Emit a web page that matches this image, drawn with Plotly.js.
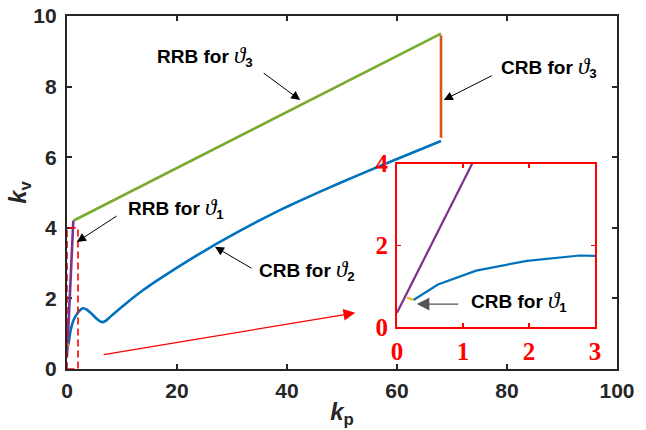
<!DOCTYPE html>
<html>
<head>
<meta charset="utf-8">
<script src="https://cdn.plot.ly/plotly-3.0.1.min.js"></script>
<style>html,body{margin:0;padding:0;background:#fff}#chart{width:646px;height:430px}</style>
</head>
<body>
<div id="chart"></div>
<script>
// ---- data ----
const crb2X = [0.25, 0.6, 1.2, 2.0, 2.9, 3.6, 4.7, 5.5, 6.3, 7.0, 7.8, 9.2, 10.9, 13.8, 16.9, 19.3, 23.3, 26.9, 31.5, 35.1, 38.7, 42.4, 49.6, 56.9, 68.0];
const crb2Y = [0.66, 1.05, 1.39, 1.6, 1.72, 1.68, 1.53, 1.41, 1.33, 1.36, 1.47, 1.66, 1.88, 2.23, 2.56, 2.80, 3.19, 3.52, 3.92, 4.22, 4.50, 4.77, 5.27, 5.75, 6.46];
const rrb3X = [1.15, 68.0];
const rrb3Y = [4.2, 9.5];
const crb3X = [68.0, 68.0];
const crb3Y = [6.55, 9.45];
const rrb1X = [0.0, 1.15];
const rrb1Y = [0.35, 4.2];
const crb1X = [0.15, 0.25];
const crb1Y = [0.72, 0.66];
const zoomBoxX = [0, 0, 2, 2, 0];
const zoomBoxY = [0, 4, 4, 0, 0];
// inset (zoomed) data
const inCrb2X = [0.25, 0.62, 1.2, 1.97, 2.77, 3.0];
const inCrb2Y = [0.66, 1.04, 1.38, 1.62, 1.75, 1.74];
const inRrb1X = [0.0, 1.14];
const inRrb1Y = [0.35, 4.0];
const xTicks = [0, 20, 40, 60, 80, 100];
const yTicks = [0, 2, 4, 6, 8, 10];
const inXTicks = [0, 1, 2, 3];
const inYTicks = [0, 2, 4];
const xTickText = ['0', '20', '40', '60', '80', '100'];
const yTickText = ['0', '2', '4', '6', '8', '10'];
const inXTickText = ['0', '1', '2', '3'];
const inYTickText = ['0', '2', '4'];

const C = {blue:'#0072BD', green:'#77AC30', orange:'#D95319', purple:'#7E2F8E', yellow:'#EDB120', red:'#FF0000', ax:'#262626'};
const th = '<span style="font-family:\'Liberation Serif\',serif;font-style:italic;font-weight:normal;font-size:23px">ϑ</span>';
const bold = a => a.map(s => '<b>' + s + '</b>');

const traces = [
  {x: crb2X, y: crb2Y, mode:'lines', line:{color:C.blue, width:2.6, shape:'spline', smoothing:0.5}, xaxis:'x', yaxis:'y'},
  {x: rrb3X, y: rrb3Y, mode:'lines', line:{color:C.green, width:2.6}, xaxis:'x', yaxis:'y'},
  {x: crb3X, y: crb3Y, mode:'lines', line:{color:C.orange, width:2.6}, xaxis:'x', yaxis:'y'},
  {x: rrb1X, y: rrb1Y, mode:'lines', line:{color:C.purple, width:2.6}, xaxis:'x', yaxis:'y'},
  {x: crb1X, y: crb1Y, mode:'lines', line:{color:C.yellow, width:2.6}, xaxis:'x', yaxis:'y'},
  {x: zoomBoxX, y: zoomBoxY, mode:'lines', line:{color:C.red, width:1.6, dash:'7px,4px'}, xaxis:'x', yaxis:'y', cliponaxis:false},
  {x: inCrb2X, y: inCrb2Y, mode:'lines', line:{color:C.blue, width:2.2}, xaxis:'x2', yaxis:'y2'},
  {x: inRrb1X, y: inRrb1Y, mode:'lines', line:{color:C.purple, width:2.2}, xaxis:'x2', yaxis:'y2'},
  {x: crb1X, y: crb1Y, mode:'lines', line:{color:C.yellow, width:2.2}, xaxis:'x2', yaxis:'y2'}
];

const tickFont = {family:'Arial, Liberation Sans', size:21, color:C.ax};
const annFont = {family:'Arial, Liberation Sans', size:19, color:'#000'};
const inFont = {family:'Times New Roman, Liberation Serif', size:25, color:C.red};

function ann(text, x, y, xr, yr, extra){
  return Object.assign({text:'<b>'+text+'</b>', x:x, y:y, xref:xr, yref:yr, showarrow:false, font:annFont, xanchor:'center', yanchor:'middle'}, extra||{});
}
function arrow(tx, ty, hx, hy, xr, yr, color, w){
  return {x:hx, y:hy, ax:tx, ay:ty, xref:xr, yref:yr, axref:xr, ayref:yr, text:'', showarrow:true,
          arrowcolor:color||'#000', arrowwidth:w||1, arrowhead:2, arrowsize:1.8, standoff:0, startstandoff:0};
}

const layout = {
  width:646, height:430,
  margin:{l:67, r:29, t:16, b:61},
  paper_bgcolor:'#fff', plot_bgcolor:'#fff',
  showlegend:false,
  font:{family:'Arial, Liberation Sans', size:20, color:C.ax},
  xaxis:{domain:[0,1], range:[0,100], tickmode:'array', tickvals:xTicks, ticktext:bold(xTickText), ticks:'inside', ticklen:5, tickwidth:2, tickcolor:C.ax,
         showline:true, linewidth:2.2, linecolor:C.ax, mirror:'allticks', showgrid:false, zeroline:false,
         tickfont:tickFont, layer:'below traces', ticklabelstandoff:2,
         title:{text:'<b><i>k</i><sub>p</sub></b>', font:{family:'Arial, Liberation Sans', size:24, color:C.ax}, standoff:2}},
  yaxis:{domain:[0,1], range:[0,10], tickmode:'array', tickvals:yTicks, ticktext:bold(yTickText), ticks:'inside', ticklen:5, tickwidth:2, tickcolor:C.ax,
         showline:true, linewidth:2.2, linecolor:C.ax, mirror:'allticks', showgrid:false, zeroline:false,
         tickfont:tickFont, layer:'below traces', ticklabelstandoff:4,
         title:{text:'<b><i>k</i><sub>v</sub></b>', font:{family:'Arial, Liberation Sans', size:24, color:C.ax}, standoff:0}},
  xaxis2:{domain:[0.6,0.96], anchor:'y2', range:[0,3], tickmode:'array', tickvals:inXTicks, ticktext:bold(inXTickText), ticks:'inside', ticklen:4, tickwidth:1.5, tickcolor:C.red,
          showline:true, linewidth:2, linecolor:C.red, mirror:'allticks', showgrid:false, zeroline:false, tickfont:inFont, ticklabelstandoff:1},
  yaxis2:{domain:[0.119,0.582], anchor:'x2', range:[0,4], tickmode:'array', tickvals:inYTicks, ticktext:bold(inYTickText), ticks:'inside', ticklen:4, tickwidth:1.5, tickcolor:C.red,
          showline:true, linewidth:2, linecolor:C.red, mirror:'allticks', showgrid:false, zeroline:false, tickfont:inFont, ticklabelstandoff:2},
  annotations:[
    ann('RRB for '+th+'<sub>3</sub>', 25.1, 8.84, 'x', 'y'),
    ann('CRB for '+th+'<sub>3</sub>', 87.6, 8.55, 'x', 'y'),
    ann('RRB for '+th+'<sub>1</sub>', 19.8, 4.56, 'x', 'y'),
    ann('CRB for '+th+'<sub>2</sub>', 43.6, 2.78, 'x', 'y'),
    ann('CRB for '+th+'<sub>1</sub>', 1.85, 0.63, 'x2', 'y2'),
    arrow(35.5, 8.41, 42.4, 7.62, 'x', 'y'),
    arrow(77.5, 8.33, 68.5, 7.62, 'x', 'y'),
    arrow(9.3, 4.36, 1.8, 3.6, 'x', 'y'),
    arrow(33.8, 2.83, 26.9, 3.46, 'x', 'y'),
    arrow(0.95, 0.56, 0.3, 0.56, 'x2', 'y2', '#555', 1.4),
    arrow(6.4, 0.4, 52.4, 1.59, 'x', 'y', C.red, 1.3)
  ]
};

Plotly.newPlot('chart', traces, layout, {staticPlot:true, displayModeBar:false});
</script>
</body>
</html>
